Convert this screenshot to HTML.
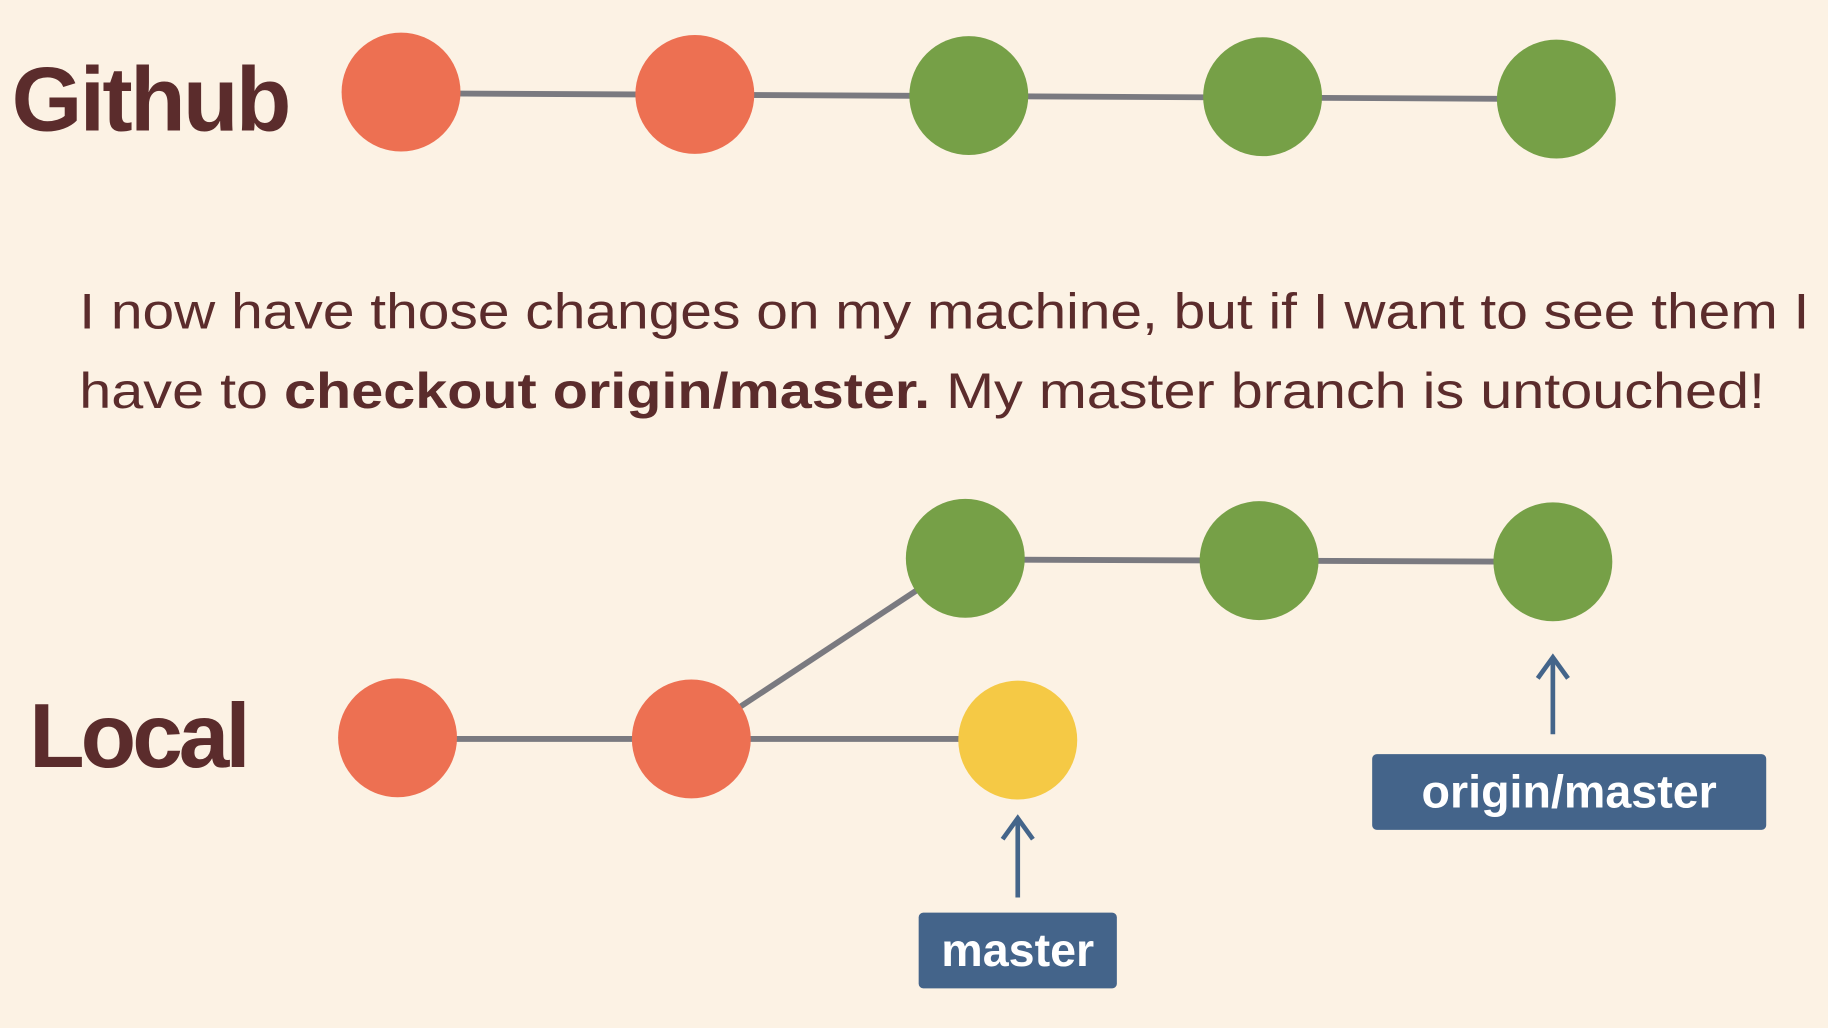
<!DOCTYPE html>
<html><head><meta charset="utf-8"><style>html,body{margin:0;padding:0;background:#FCF2E4;}svg{display:block}</style></head>
<body>
<svg width="1828" height="1028" viewBox="0 0 1568 882" preserveAspectRatio="none" xmlns="http://www.w3.org/2000/svg">
<rect width="1568" height="882" fill="#FCF2E4"/>
<g stroke="#7a7a80" stroke-width="5" fill="none">
<line x1="344" y1="80" x2="1335" y2="85"/>
<line x1="341" y1="634" x2="873" y2="634"/>
<line x1="593" y1="634" x2="828" y2="479"/>
<line x1="828" y1="480" x2="1332" y2="482"/>
</g>
<g>
<circle cx="344" cy="79" r="51" fill="#ED7052"/>
<circle cx="596" cy="81" r="51" fill="#ED7052"/>
<circle cx="831" cy="82" r="51" fill="#76A047"/>
<circle cx="1083" cy="83" r="51" fill="#76A047"/>
<circle cx="1335" cy="85" r="51" fill="#76A047"/>
<circle cx="341" cy="633" r="51" fill="#ED7052"/>
<circle cx="593" cy="634" r="51" fill="#ED7052"/>
<circle cx="873" cy="635" r="51" fill="#F5C945"/>
<circle cx="828" cy="479" r="51" fill="#76A047"/>
<circle cx="1080" cy="481" r="51" fill="#76A047"/>
<circle cx="1332" cy="482" r="51" fill="#76A047"/>
</g>
<g font-family="Liberation Sans, sans-serif" fill="#5B2C2C">
<text x="10" y="112" font-size="78" font-weight="bold" textLength="240">Github</text>
<text x="25" y="658" font-size="78" font-weight="bold" textLength="190">Local</text>
<text x="68" y="282" font-size="43" textLength="1484" lengthAdjust="spacingAndGlyphs">I now have those changes on my machine, but if I want to see them I</text>
<text x="68" y="350" font-size="43" textLength="1446" lengthAdjust="spacingAndGlyphs">have to <tspan font-weight="bold">checkout origin/master.</tspan>  My master branch is untouched!</text>
</g>
<g stroke="#44658A" stroke-width="4" fill="none">
<line x1="873" y1="770" x2="873" y2="702"/>
<polyline points="860,720 873,702 886,720"/>
<line x1="1332" y1="630" x2="1332" y2="564"/>
<polyline points="1319,582 1332,564 1345,582"/>
</g>
<rect x="788" y="783" width="170" height="65" rx="4" fill="#44648A"/>
<rect x="1177" y="647" width="338" height="65" rx="4" fill="#44648A"/>
<g font-family="Liberation Sans, sans-serif" fill="#fff" font-weight="bold" font-size="40" text-anchor="middle">
<text x="873" y="829">master</text>
<text x="1346" y="693">origin/master</text>
</g>
</svg>
</body></html>
